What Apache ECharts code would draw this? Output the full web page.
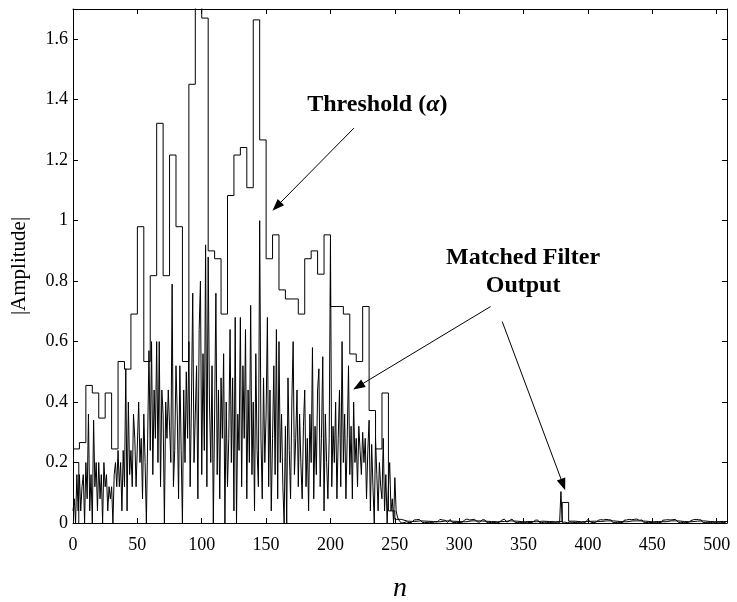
<!DOCTYPE html>
<html><head><meta charset="utf-8">
<script src="https://cdn.jsdelivr.net/npm/echarts@6/dist/echarts.min.js"></script>
<style>html,body{margin:0;padding:0;background:#fff}#c{width:737px;height:602px}</style>
</head><body><div id="c"></div><script>
// ---- data ----
const xMin = 0, xMax = 508, xStep = 50;
const yMin = 0, yMax = 1.7, yStep = 0.2;

// matched filter output |amplitude|, samples n = 0..255
const mfHead = [
 0.04,0.08,0.00,0.16,0.04,0.16,0.04,0.12,0.16,0.00,
 0.20,0.08,0.36,0.04,0.16,0.00,0.34,0.12,0.20,0.04,
 0.20,0.08,0.16,0.00,0.20,0.12,0.16,0.04,0.12,0.08,
 0.12,0.00,0.16,0.20,0.12,0.24,0.12,0.20,0.04,0.24,
 0.12,0.51,0.04,0.40,0.16,0.24,0.12,0.36,0.28,0.12,
 0.12,0.40,0.20,0.28,0.08,0.36,0.20,0.00,0.28,0.57,
 0.24,0.60,0.16,0.44,0.28,0.60,0.20,0.60,0.12,0.44,
 0.36,0.00,0.40,0.28,0.44,0.32,0.20,0.79,0.12,0.24,
 0.52,0.36,0.08,0.52,0.24,0.00,0.44,0.20,0.50,0.28,
 0.60,0.12,0.40,0.76,0.20,0.36,0.52,0.08,0.64,0.80,
 0.16,0.56,0.24,0.92,0.12,0.88,0.40,0.20,0.52,0.00,
 0.36,0.76,0.16,0.44,0.08,0.48,0.28,0.56,0.00,0.40,
 0.12,0.28,0.64,0.20,0.48,0.04,0.68,0.00,0.36,0.24,
 0.68,0.12,0.52,0.28,0.64,0.08,0.44,0.20,0.72,0.16,
 0.40,0.04,0.56,0.24,0.12,1.00,0.28,0.08,0.48,0.20,
 0.36,0.68,0.12,0.44,0.04,0.28,0.52,0.16,0.64,0.08,
 0.60,0.20,0.36,0.12,0.00,0.32,0.00,0.48,0.24,0.08,
 0.40,0.60,0.16,0.28,0.44,0.12,0.36,0.20,0.08,0.32,
 0.44,0.12,0.28,0.04,0.36,0.20,0.58,0.08,0.32,0.16,
 0.44,0.51,0.12,0.28,0.55,0.04,0.36,0.20,0.08,0.28,
 0.93,0.12,0.32,0.20,0.40,0.08,0.28,0.44,0.12,0.60,
 0.20,0.36,0.08,0.28,0.52,0.16,0.32,0.08,0.40,0.20,
 0.28,0.12,0.32,0.24,0.16,0.30,0.20,0.28,0.08,0.24,
 0.34,0.04,0.26,0.12,0.00,0.28,0.16,0.04,0.20,0.12,
 0.08,0.28,0.04,0.16,0.00,0.12,0.20,0.04,0.08,0.00,
 0.15,0.04,0.02,0.01,0.005,0.00
];
// samples n = 256..507
const mfTail = [
 0.003,0.001,0.002,0.004,0.002,0.001,0.003,0.002,0.004,0.010,
 0.012,0.011,0.010,0.012,0.008,0.003,0.002,0.001,0.003,0.002,
 0.001,0.002,0.003,0.001,0.002,0.004,0.002,0.003,0.008,0.012,
 0.013,0.010,0.012,0.009,0.004,0.002,0.006,0.012,0.004,0.002,
 0.001,0.003,0.002,0.001,0.002,0.003,0.001,0.004,0.009,0.012,
 0.013,0.011,0.010,0.012,0.011,0.009,0.012,0.010,0.004,0.002,
 0.003,0.009,0.011,0.012,0.010,0.003,0.002,0.001,0.003,0.002,
 0.001,0.002,0.003,0.002,0.001,0.002,0.003,0.009,0.012,0.013,
 0.010,0.003,0.002,0.008,0.012,0.013,0.009,0.003,0.002,0.001,
 0.003,0.002,0.001,0.002,0.003,0.001,0.002,0.001,0.003,0.002,
 0.001,0.002,0.003,0.009,0.012,0.010,0.003,0.002,0.001,0.002,
 0.003,0.001,0.002,0.001,0.002,0.003,0.001,0.002,0.001,0.002,
 0.003,0.001,0.002,0.104,0.002,0.001,0.003,0.002,0.001,0.002,
 0.003,0.001,0.002,0.001,0.002,0.003,0.001,0.002,0.001,0.002,
 0.003,0.001,0.002,0.008,0.012,0.010,0.003,0.002,0.001,0.003,
 0.002,0.001,0.009,0.012,0.011,0.012,0.010,0.008,0.012,0.013,
 0.011,0.013,0.010,0.003,0.002,0.001,0.003,0.002,0.001,0.002,
 0.003,0.001,0.009,0.012,0.010,0.011,0.012,0.009,0.011,0.013,
 0.012,0.010,0.013,0.011,0.009,0.012,0.010,0.003,0.002,0.001,
 0.003,0.002,0.001,0.002,0.003,0.001,0.002,0.001,0.003,0.002,
 0.001,0.002,0.009,0.012,0.010,0.012,0.011,0.013,0.010,0.012,
 0.011,0.009,0.012,0.010,0.003,0.002,0.001,0.003,0.002,0.001,
 0.002,0.003,0.001,0.002,0.008,0.012,0.011,0.010,0.012,0.009,
 0.011,0.012,0.010,0.003,0.002,0.001,0.003,0.002,0.001,0.002,
 0.003,0.001,0.002,0.001,0.002,0.003,0.001,0.002,0.001,0.002,
 0.003,0.001
];
// short initial segment at 0.2 (n = 0 .. 4.5)
const initSegX = [0, 4.5, 4.5];
const initSegY = [0.2, 0.2, 0];

// threshold (alpha), one value per block of 5 samples starting at n = 0
const thrBlock = 5;
const thrValues = [
 0.245,0.266,0.455,0.43,0.347,0.43,0.245,0.534,0.509,0.691,
 0.98,0.534,0.818,1.322,0.818,1.217,0.98,0.534,1.451,1.80,
 1.67,0.90,0.874,0.691,1.083,1.217,1.242,1.109,1.664,1.267,
 0.874,0.953,0.771,0.741,0.741,0.691,0.874,0.90,0.823,0.953,
 0.716,0.716,0.691,0.559,0.534,0.716,0.372,0.245,0.43,0.04,
 0.012,0.006,0.005,0.007,0.006,0.005,0.004,0.007,0.006,0.005,
 0.004,0.007,0.007,0.006,0.005,0.004,0.005,0.007,0.006,0.004,
 0.005,0.004,0.006,0.005,0.004,0.005,0.068,0.006,0.004,0.005,
 0.006,0.005,0.007,0.007,0.005,0.004,0.007,0.007,0.006,0.004,
 0.005,0.004,0.007,0.007,0.005,0.004,0.006,0.007,0.005,0.004,
 0.005,0.005
];

// annotations (data coordinates)
const arrows = [
 {from:[218.2,1.306], to:[158.2,1.047]},
 {from:[324.4,0.716], to:[221.6,0.452]},
 {from:[333.4,0.666], to:[380.7,0.127]}
];
const labels = [
 {pos:[236.4,1.383], text:'{b|Threshold (}{a|α}{b|)}'},
 {pos:[349.6,0.83], text:'{b|Matched Filter}\n{b|Output}'}
];

// ---- build ----
const mf = mfHead.concat(mfTail).map((v,i)=>[i,v]);
const thr = thrValues.map((v,i)=>[i*thrBlock,v]);
thr.push([xMax, thrValues[thrValues.length-1]]);
const seg = initSegX.map((x,i)=>[x,initSegY[i]]);

const FONT = '"Liberation Serif","Times New Roman",serif';
const chart = echarts.init(document.getElementById('c'), null, {renderer:'canvas'});
const axisCommon = () => ({
  axisLine:{show:true,onZero:false,lineStyle:{color:'#000',width:1}},
  axisTick:{show:true,inside:true,length:5,lineStyle:{color:'#000',width:1}},
  splitLine:{show:false}
});
const opt = {
  animation:false,
  backgroundColor:'#fff',
  grid:{left:73,top:9,right:10,bottom:79,containLabel:false,outerBoundsMode:'none',show:false},
  xAxis:[
    Object.assign({type:'value',min:xMin,max:xMax,interval:xStep,position:'bottom',
      name:'n',nameLocation:'middle',nameGap:52,
      nameTextStyle:{fontFamily:FONT,fontStyle:'italic',fontSize:28,color:'#000'},
      axisLabel:{fontFamily:FONT,fontSize:18,color:'#000',margin:13,showMaxLabel:false}},axisCommon()),
    Object.assign({type:'value',min:xMin,max:xMax,interval:xStep,position:'top',
      axisLabel:{show:false}},axisCommon())
  ],
  yAxis:[
    Object.assign({type:'value',min:yMin,max:yMax,interval:yStep,position:'left',
      name:'|Amplitude|',nameLocation:'middle',nameGap:43,
      nameTextStyle:{fontFamily:FONT,fontSize:21,color:'#000'},
      axisLabel:{fontFamily:FONT,fontSize:18,color:'#000',margin:5,showMaxLabel:false,
        formatter:v=>String(Math.round(v*10)/10)}},axisCommon()),
    Object.assign({type:'value',min:yMin,max:yMax,interval:yStep,position:'right',
      axisLabel:{show:false}},axisCommon())
  ],
  series:[
    {type:'line',name:'Threshold',data:thr,step:'end',showSymbol:false,clip:true,
     lineStyle:{color:'#000',width:1},emphasis:{disabled:true},silent:true,
     markLine:{silent:true,symbol:['none','triangle'],symbolSize:[9,12],
       lineStyle:{type:'solid',color:'#000',width:1},label:{show:false},emphasis:{disabled:true},
       data:arrows.map(a=>[{coord:a.from},{coord:a.to}])}},
    {type:'line',name:'Matched Filter Output',data:mf,showSymbol:false,clip:true,
     lineStyle:{color:'#000',width:1},emphasis:{disabled:true},silent:true},
    {type:'line',name:'init',data:seg,showSymbol:false,clip:true,
     lineStyle:{color:'#000',width:1},emphasis:{disabled:true},silent:true}
  ]
};
chart.setOption(opt);
const g = labels.map(l=>{
  const p = chart.convertToPixel({gridIndex:0}, l.pos);
  return {type:'text',x:p[0],y:p[1],style:{text:l.text,align:'center',verticalAlign:'middle',
    rich:{b:{fontFamily:FONT,fontWeight:'bold',fontSize:24,color:'#000',lineHeight:28},
          a:{fontFamily:FONT,fontWeight:'bold',fontStyle:'italic',fontSize:24,color:'#000',lineHeight:28}}}};
});
chart.setOption({graphic:g});
</script></body></html>
